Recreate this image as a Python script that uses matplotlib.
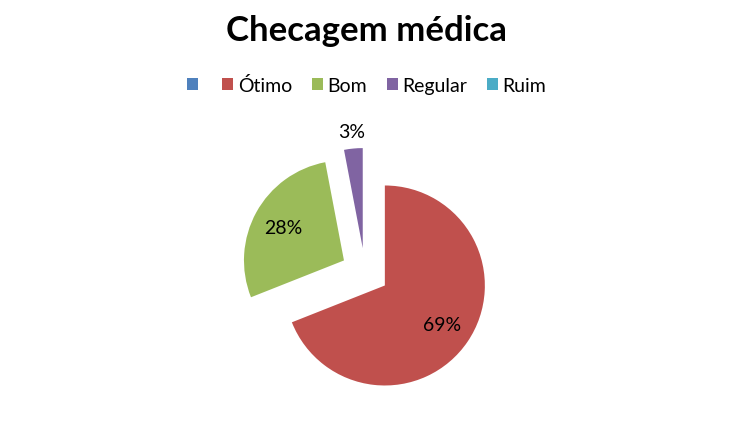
import matplotlib.pyplot as plt
from matplotlib.patches import Patch
import numpy as np

# dados
categorias = ['', 'Ótimo', 'Bom', 'Regular', 'Ruim']
valores = [0, 69, 28, 3, 0]
cores = ['#4F81BD', '#C0504D', '#9BBB59', '#8064A2', '#4BACC6']

plt.rcParams['font.family'] = ['Lato', 'DejaVu Sans']

fig = plt.figure(figsize=(7.33, 4.31), dpi=100)
fig.patch.set_facecolor('white')

# eixo do pizza: centro em (365, 273) px, raio 100 px
ax = fig.add_axes([(365 - 150) / 733, (431 - 273 - 150) / 431, 300 / 733, 300 / 431])

idx = [i for i, v in enumerate(valores) if v > 0]
vals = [valores[i] for i in idx]
cols = [cores[i] for i in idx]

wedges, _ = ax.pie(vals, colors=cols, startangle=90, counterclock=False,
                   explode=[0.24] * len(vals), radius=1.0,
                   wedgeprops=dict(linewidth=0))

for w, v in zip(wedges, vals):
    ang = np.deg2rad((w.theta1 + w.theta2) / 2)
    cx, cy = w.center
    dist = 0.69 if v >= 10 else 1.17
    ax.text(cx + dist * np.cos(ang), cy + dist * np.sin(ang), f'{v}%',
            ha='center', va='center', fontsize=14, color='black')

ax.set_xlim(-1.5, 1.5)
ax.set_ylim(-1.5, 1.5)
ax.set_aspect('equal')
ax.axis('off')

fig.text(0.5, 1 - 31 / 431, 'Checagem médica', ha='center', va='center',
         fontsize=25, fontweight='bold')

handles = [Patch(facecolor=c, edgecolor='none') for c in cores]
fig.legend(handles, categorias, loc='center', bbox_to_anchor=(0.5, 1 - 86 / 431),
           ncol=5, frameon=False, fontsize=14, handlelength=0.57, handleheight=0.57,
           handletextpad=0.25, columnspacing=1.0)

fig.savefig('out.png', dpi=100, facecolor='white')
